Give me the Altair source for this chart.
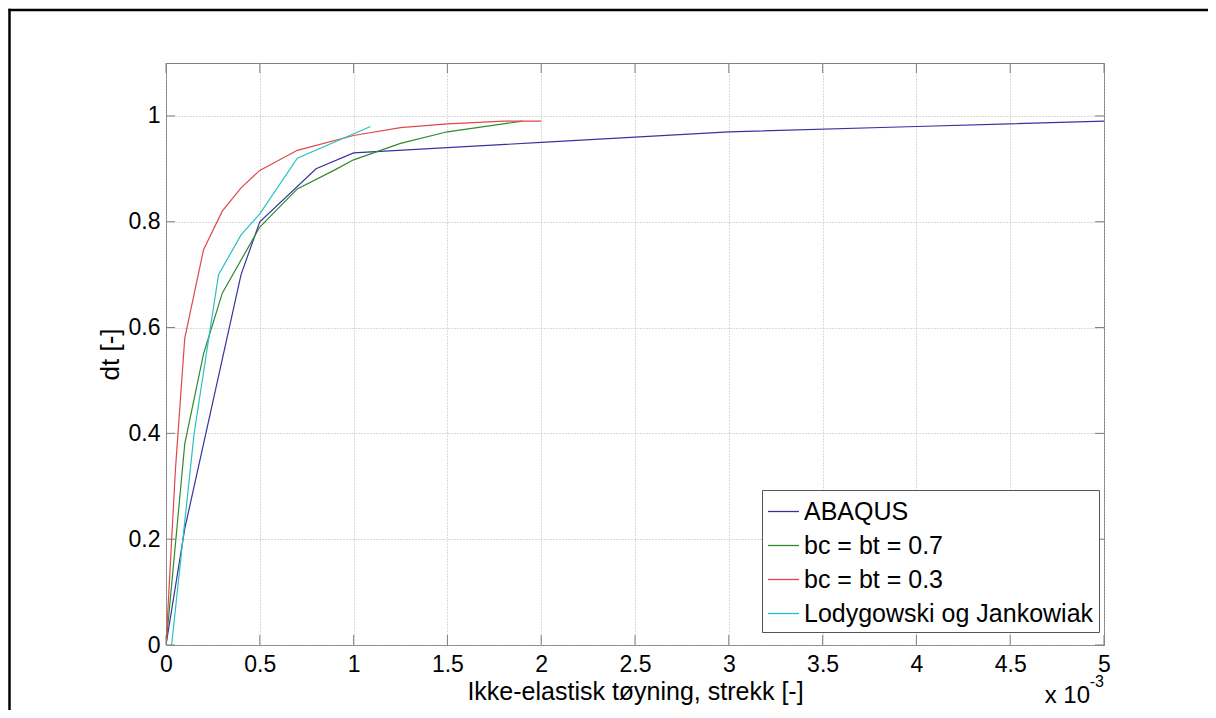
import altair as alt
import pandas as pd

# ---- data (x in units of 10^-3) ----
series_names = ["ABAQUS", "bc = bt = 0.7", "bc = bt = 0.3", "Lodygowski og Jankowiak"]
series_colors = ["#34349e", "#2f8a2f", "#e04848", "#2cc0c0"]

abaqus_x = [0, 0.1, 0.4, 0.5, 0.8, 1.0, 2.0, 3.0, 4.0, 5.0]
abaqus_y = [0, 0.22, 0.70, 0.80, 0.90, 0.93, 0.95, 0.97, 0.98, 0.99]

b07_x = [0, 0.1, 0.2, 0.3, 0.5, 0.7, 0.9, 1.0, 1.25, 1.5, 1.9]
b07_y = [0, 0.38, 0.55, 0.665, 0.79, 0.862, 0.898, 0.917, 0.948, 0.97, 0.99]

b03_x = [0, 0.05, 0.1, 0.2, 0.3, 0.4, 0.5, 0.7, 1.0, 1.25, 1.5, 1.8, 2.0]
b03_y = [0, 0.33, 0.58, 0.747, 0.82, 0.864, 0.897, 0.935, 0.963, 0.978, 0.985, 0.99, 0.99]

lod_x = [0.03, 0.15, 0.28, 0.4, 0.5, 0.7, 1.09]
lod_y = [0, 0.40, 0.70, 0.775, 0.815, 0.92, 0.98]

x_ticks = [0, 0.5, 1, 1.5, 2, 2.5, 3, 3.5, 4, 4.5, 5]
y_ticks = [0, 0.2, 0.4, 0.6, 0.8, 1]

x_title = "Ikke-elastisk tøyning, strekk [-]"
y_title = "dt [-]"

rows = []
for name, xs, ys in zip(series_names,
                        [abaqus_x, b07_x, b03_x, lod_x],
                        [abaqus_y, b07_y, b03_y, lod_y]):
    for i, (a, b) in enumerate(zip(xs, ys)):
        rows.append({"series": name, "x": a, "y": b, "i": i})
df = pd.DataFrame(rows)

xt = pd.DataFrame({"x": x_ticks})
yt = pd.DataFrame({"y": y_ticks})
one = pd.DataFrame({"a": [0]})

W, H = 938, 582
PL, PT = 158, 55
SVG_W, SVG_H = 1200, 702
FONT = "Liberation Sans"
GRAY = "#7f7f7f"

xscale = alt.Scale(domain=[0, 5], nice=False, zero=False)
yscale = alt.Scale(domain=[0, 1.1], nice=False, zero=False)

x_axis = alt.Axis(values=x_ticks, format="~g", title=x_title, grid=True,
                  labelFontSize=23, titleFontSize=25, labelPadding=8,
                  titlePadding=3, labelFlush=False)
y_axis = alt.Axis(values=y_ticks, format="~g", title=y_title, grid=True,
                  labelFontSize=23, titleFontSize=26, labelPadding=6,
                  titlePadding=5)

X = alt.X("x:Q", scale=xscale, axis=x_axis, title=x_title)
Y = alt.Y("y:Q", scale=yscale, axis=y_axis, title=y_title)

lines = alt.Chart(df).mark_line(strokeWidth=1.2, clip=True).encode(
    x=X,
    y=Y,
    color=alt.Color(
        "series:N",
        scale=alt.Scale(domain=series_names, range=series_colors),
        sort=series_names,
        legend=alt.Legend(
            title=None, orient="none", legendX=596, legendY=427,
            symbolType="stroke", symbolSize=961, symbolStrokeWidth=1.3,
            labelFontSize=25, labelFont=FONT, labelColor="black",
            labelOffset=4, rowPadding=4, padding=5,
            strokeColor="#555555", fillColor="white", labelLimit=400,
        ),
    ),
    order="i:Q",
)

tick_b = alt.Chart(xt).mark_rule(color=GRAY, strokeWidth=1).encode(
    x=X, y=alt.value(H), y2=alt.value(H - 10))
tick_t = alt.Chart(xt).mark_rule(color=GRAY, strokeWidth=1).encode(
    x=X, y=alt.value(0), y2=alt.value(10))
tick_l = alt.Chart(yt).mark_rule(color=GRAY, strokeWidth=1).encode(
    y=Y, x=alt.value(0), x2=alt.value(9))
tick_r = alt.Chart(yt).mark_rule(color=GRAY, strokeWidth=1).encode(
    y=Y, x=alt.value(W), x2=alt.value(W - 9))

# outer figure frame (left and top edges only, as in the screenshot)
frame_top = alt.Chart(one).mark_rule(color="black", strokeWidth=2.5).encode(
    x=alt.value(0.5 - PL), x2=alt.value(SVG_W - PL + 5), y=alt.value(2 - PT))
frame_left = alt.Chart(one).mark_rule(color="black", strokeWidth=2.5).encode(
    x=alt.value(1.5 - PL), y=alt.value(0.8 - PT), y2=alt.value(SVG_H - PT + 5))

mult = alt.Chart(one).mark_text(align="right", baseline="alphabetic", fontSize=24,
                                font=FONT, color="black").encode(
    x=alt.value(W - 14), y=alt.value(H + 58), text=alt.value("x 10"))
expo = alt.Chart(one).mark_text(align="right", baseline="alphabetic", fontSize=16,
                                font=FONT, color="black").encode(
    x=alt.value(W), y=alt.value(H + 42), text=alt.value("-3"))

chart = alt.layer(lines, tick_b, tick_t, tick_l, tick_r, frame_top,
                  frame_left, mult, expo).properties(
    width=W, height=H,
    padding={"left": PL, "top": PT, "right": SVG_W - PL - W, "bottom": SVG_H - PT - H},
    autosize=alt.AutoSizeParams(type="none"),
    background="white",
).configure_view(
    stroke=GRAY, strokeWidth=1,
).configure_axis(
    domain=False, ticks=False, gridColor="#b4b4b4", gridDash=[1, 2], gridWidth=1,
    labelFont=FONT, titleFont=FONT, labelColor="black", titleColor="black",
    titleFontWeight="normal",
)

chart.save("out.html", embed_options={"renderer": "svg", "actions": False})
